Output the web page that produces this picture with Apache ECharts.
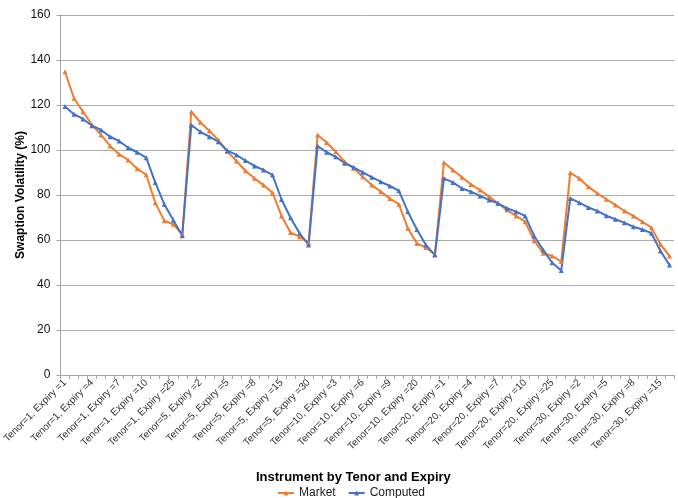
<!DOCTYPE html>
<html>
<head>
<meta charset="utf-8">
<script src="https://cdn.jsdelivr.net/npm/echarts@6/dist/echarts.min.js"></script>
<style>
html,body{margin:0;padding:0;background:#fff;}
#chart{width:678px;height:498px;}
</style>
</head>
<body>
<div id="chart"></div>
<script>
var tenors = [1, 5, 10, 20, 30];
var expiriesByTenor = [
  [1,2,3,4,5,6,7,8,9,10,15,20,25,30],
  [1,2,3,4,5,6,7,8,9,10,15,20,25,30],
  [1,2,3,4,5,6,7,8,9,10,15,20,25,30],
  [1,2,3,4,5,6,7,8,9,10,15,20,25,30],
  [1,2,3,4,5,6,7,8,9,10,15,20]
];
var marketT1  = [134.8,123.0,117.0,111.1,106.7,101.8,98.1,95.6,91.7,89.0,76.6,68.6,67.0,62.5];
var marketT5  = [117.0,112.3,108.6,104.4,99.3,95.1,90.8,87.4,84.4,81.0,70.7,63.3,61.5,58.8];
var marketT10 = [106.7,103.3,99.3,94.8,91.9,88.1,84.4,81.5,78.5,75.9,65.2,58.5,56.7,53.6];
var marketT20 = [94.4,91.1,87.9,84.7,82.2,79.3,76.3,73.3,70.7,68.1,59.7,54.1,52.9,50.4];
var marketT30 = [89.9,87.4,83.7,80.7,78.1,75.6,72.9,70.7,68.1,65.5,58.1,52.9];
var computedT1  = [119.3,115.9,113.8,110.8,108.9,105.9,104.0,101.0,99.0,96.6,85.6,75.9,68.9,61.9];
var computedT5  = [111.1,108.1,105.9,103.7,99.7,97.8,95.3,92.9,91.1,88.9,78.0,69.9,63.0,57.8];
var computedT10 = [101.8,99.0,97.0,94.1,92.3,90.1,87.9,85.9,84.0,81.9,72.6,64.7,57.8,53.3];
var computedT20 = [87.4,85.6,82.9,81.5,79.6,77.8,76.3,74.1,72.6,70.7,61.8,55.6,49.9,46.4];
var computedT30 = [78.5,76.6,74.5,72.9,70.8,69.2,67.7,65.9,64.7,63.0,55.1,48.9];
var yTicks = [0,20,40,60,80,100,120,140,160];

var categories = [];
tenors.forEach(function(t, i){
  expiriesByTenor[i].forEach(function(e){
    categories.push('Tenor=' + t + ', Expiry =' + e);
  });
});
var market = [].concat(marketT1, marketT5, marketT10, marketT20, marketT30);
var computed = [].concat(computedT1, computedT5, computedT10, computedT20, computedT30);

var chart = echarts.init(document.getElementById('chart'), null, {renderer:'canvas'});
var font = 'Liberation Sans, Arial, sans-serif';
chart.setOption({
  animation: false,
  textStyle: {fontFamily: font},
  title: {
    text: 'Instrument by Tenor and Expiry',
    left: 251, top: 466,
    textStyle: {fontFamily: font, fontSize: 13, fontWeight: 'bold', color: '#000'}
  },
  legend: {
    data: ['Market', 'Computed'],
    left: 272, top: 482,
    itemWidth: 16, itemHeight: 6, itemGap: 12,
    textStyle: {fontFamily: font, fontSize: 12, color: '#222'}
  },
  grid: {left: 57, right: 4, top: 15, bottom: 123, containLabel: false},
  xAxis: {
    type: 'category',
    data: categories,
    boundaryGap: true,
    axisLine: {lineStyle: {color: '#a6a6a6', width: 1}},
    axisTick: {show: true, interval: 0, length: 4, lineStyle: {color: '#a6a6a6'}},
    axisLabel: {interval: 2, rotate: 45, fontSize: 10, color: '#333', fontFamily: font, margin: 6},
    splitLine: {show: false}
  },
  yAxis: {
    type: 'value',
    min: yTicks[0], max: yTicks[yTicks.length-1], interval: 20,
    name: 'Swaption Volatility (%)',
    nameLocation: 'middle',
    nameGap: 34,
    nameMoveOverlap: false,
    nameTextStyle: {fontFamily: font, fontSize: 12, fontWeight: 'bold', color: '#000'},
    axisLine: {show: true, lineStyle: {color: '#a6a6a6'}},
    axisTick: {show: true, length: 4, lineStyle: {color: '#a6a6a6'}},
    axisLabel: {fontSize: 12, color: '#111', fontFamily: font, margin: 10},
    splitLine: {lineStyle: {color: '#ababab', width: 1}}
  },
  series: [
    {
      name: 'Market', type: 'line', data: market,
      symbol: 'triangle', symbolSize: 5, showAllSymbol: true,
      lineStyle: {color: '#ED7D31', width: 2},
      itemStyle: {color: '#ED7D31'}
    },
    {
      name: 'Computed', type: 'line', data: computed,
      symbol: 'triangle', symbolSize: 5, showAllSymbol: true,
      lineStyle: {color: '#4472C4', width: 2},
      itemStyle: {color: '#4472C4'}
    }
  ]
});
</script>
</body>
</html>
